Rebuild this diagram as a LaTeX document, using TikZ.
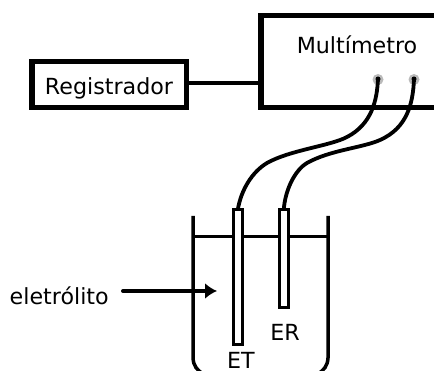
\documentclass[tikz,border=0pt]{standalone}
\usepackage{fontspec}
\setmainfont{DejaVu Sans}
\usetikzlibrary{arrows.meta}
\tikzset{
  box/.style={draw=black,line width=5.5pt,inner sep=0pt,outer sep=0pt,anchor=north west},
  wire/.style={draw=black,line width=3.8pt},
  link/.style={draw=black,line width=4pt},
  thin line/.style={draw=black,line width=3.5pt},
  electrode/.style={draw=black,fill=white,line width=3pt,inner sep=0pt,outer sep=0pt,anchor=north west,minimum width=8.5pt},
  label/.style={inner sep=0pt,font=\fontsize{22.2}{24}\selectfont,text=black},
  halo/.style={circle,fill=black!45,inner sep=0pt,minimum size=11pt,opacity=.6},
  pin/.style={circle,fill=black,inner sep=0pt,minimum size=5pt}
}
\begin{document}
\begin{tikzpicture}[x=1pt,y=-1pt]
\useasboundingbox (0,0) rectangle (434,371);
\clip (0,0) rectangle (434,371);
% boxes
\node[box,minimum width=154.5pt,minimum height=46pt] (reg) at (31.75,61.75) {};
\node[box,minimum width=230pt,minimum height=92pt] (multi) at (260.75,15.75) {};
\draw[link] (reg.east |- 0,83) -- (multi.west |- 0,83);
\node[label,anchor=base] (regtext) at (109,94.5) {Registrador};
\node[label,anchor=base] (multitext) at (357,54) {Multímetro};
% beaker
\coordinate (bl) at (193,216);
\coordinate (br) at (328,216);
\draw[thin line] (bl) -- (193,358) .. controls (193.5,366) and (197,370) .. (203,374);
\draw[thin line] (br) -- (328,358) .. controls (327.5,366) and (324,370) .. (318,374);
\draw[draw=black,line width=3pt] (193,237) -- (328,237);
% electrodes
\node[electrode,minimum height=135pt] (et) at (233.5,210) {};
\node[electrode,minimum height=98pt] (er) at (279.5,210) {};
% terminals
\node[halo] (h1) at (378,79.5) {};
\node[halo] (h2) at (414,79.5) {};
\node[pin] (p1) at (378,79) {};
\node[pin] (p2) at (414,79) {};
% wires
\draw[wire] (p1.center) .. controls (377,100) and (372,124) .. (347,137)
  .. controls (330,146) and (290,150) .. (267,163)
  .. controls (252,172) and (241,190) .. (et.north);
\draw[wire] (p2.center) .. controls (413,104) and (407,128) .. (380,140)
  .. controls (362,148) and (330,150) .. (307,163)
  .. controls (295,170) and (285,190) .. (er.north);
% labels
\node[label,anchor=base] (etl) at (241,369) {ET};
\node[label,anchor=base] (erl) at (285,341) {ER};
\node[label,anchor=base west] (el) at (9.5,304.5) {eletrólito};
\coordinate (as) at (123,291);
\coordinate (ae) at (217,291);
\draw[link,-{Latex[length=12pt,width=16pt]},line cap=round] (as) -- (ae);
\end{tikzpicture}
\end{document}
